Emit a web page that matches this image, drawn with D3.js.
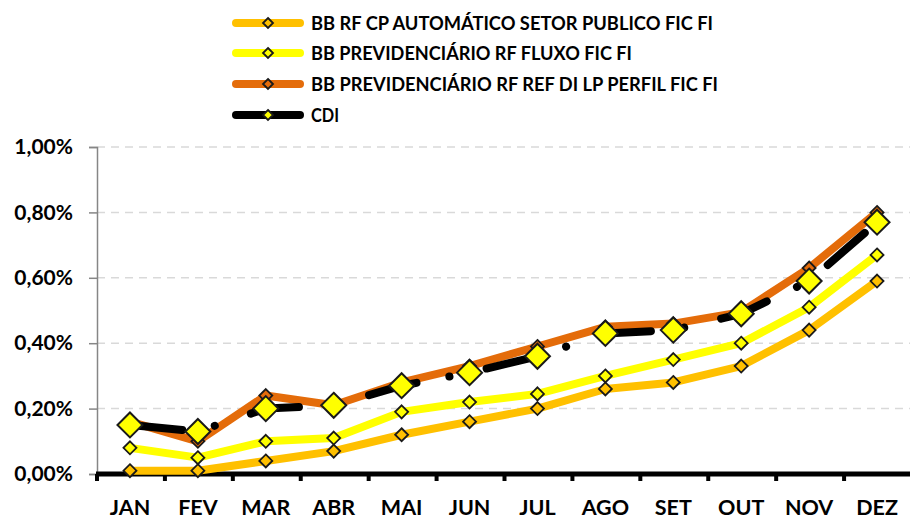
<!DOCTYPE html>
<html><head><meta charset="utf-8">
<script src="https://cdn.jsdelivr.net/npm/d3@7"></script>
<style>body{margin:0;background:#fff}svg{display:block}text{font-family:Lato,"Liberation Sans",Arial,sans-serif;font-weight:bold;fill:#000}</style>
</head><body><svg id="c" width="910" height="519"></svg>
<script>
const months = ["JAN","FEV","MAR","ABR","MAI","JUN","JUL","AGO","SET","OUT","NOV","DEZ"];
const seriesNames = ["BB RF CP AUTOMÁTICO SETOR PUBLICO FIC FI","BB PREVIDENCIÁRIO RF FLUXO FIC FI","BB PREVIDENCIÁRIO RF REF DI LP PERFIL FIC FI","CDI"];
const rfcp   = [0.01,0.01,0.04,0.07,0.12,0.16,0.20,0.26,0.28,0.33,0.44,0.59];
const fluxo  = [0.08,0.05,0.10,0.11,0.19,0.22,0.245,0.30,0.35,0.40,0.51,0.67];
const perfil = [0.16,0.10,0.24,0.21,0.28,0.33,0.39,0.45,0.46,0.495,0.63,0.80];
const cdi    = [0.15,0.13,0.20,0.21,0.27,0.31,0.36,0.43,0.44,0.49,0.59,0.77];
const yTicks = [0,0.2,0.4,0.6,0.8,1.0];

const colors = ["#FFC000","#FFFF00","#E46C0A","#000000"];
const markerFill = ["#FFC000","#FFFF00","#E46C0A","#FFFF00"];
const data = [rfcp, fluxo, perfil, cdi];

const svg = d3.select("#c");
const x = d3.scaleBand().domain(months).range([96, 911]).padding(0);
const y = d3.scaleLinear().domain([0, 1]).range([474, 147]);
const cx = m => x(m) + x.bandwidth()/2;

// gridlines
svg.append("g").selectAll("line").data(yTicks.slice(1)).join("line")
  .attr("x1", 97).attr("x2", 910).attr("y1", d=>y(d)).attr("y2", d=>y(d))
  .attr("stroke", "#D9D9D9").attr("stroke-width", 1.5).attr("stroke-dasharray", "8,6");

// y axis
const yAxis = d3.axisLeft(y).tickValues(yTicks).tickSize(8)
  .tickFormat(d => d3.format(".2f")(d).replace(".", ",") + "%");
const ga = svg.append("g").attr("transform", "translate(97,0)").call(yAxis);
ga.select(".domain").attr("stroke", "#868686").attr("stroke-width", 1.5);
ga.selectAll(".tick line").attr("stroke", "#868686").attr("stroke-width", 1.5);
ga.selectAll(".tick text").attr("x", -24).attr("font-size", 21).attr("font-family", "Lato, Liberation Sans, Arial, sans-serif").attr("font-weight", "bold").attr("fill", "#000");

// x axis
const xa = svg.append("g").attr("transform", "translate(0,474)");
xa.append("line").attr("x1", 96).attr("x2", 910).attr("y1", 0).attr("y2", 0).attr("stroke", "#000").attr("stroke-width", 5);
xa.selectAll("line.tk").data(d3.range(13)).join("line").attr("class","tk")
  .attr("x1", i => 97 + i*x.bandwidth()).attr("x2", i => 97 + i*x.bandwidth())
  .attr("y1", 0).attr("y2", 7).attr("stroke", "#000").attr("stroke-width", 4);
xa.selectAll("text").data(months).join("text")
  .attr("x", d => cx(d)).attr("y", 41).attr("text-anchor", "middle").attr("font-size", 21.5).text(d => d);

const line = d3.line().x((d,i) => cx(months[i])).y(d => y(d));
const diamond = (s) => `M0,${-s}L${s},0L0,${s}L${-s},0Z`;

// lines
data.forEach((vals, k) => {
  const p = svg.append("path").datum(vals).attr("d", line)
    .attr("fill", "none").attr("stroke", colors[k]).attr("stroke-width", 8)
    .attr("stroke-linejoin", "round").attr("stroke-linecap", "round");
  if (k === 3) p.attr("stroke-dasharray", "49,33.5,0.1,38").attr("stroke-dashoffset", -3.5);
  const sz = k === 3 ? 12.5 : 6.5;
  svg.append("g").selectAll("path").data(vals).join("path")
    .attr("transform", (d,i) => `translate(${cx(months[i])},${y(d)})`)
    .attr("d", diamond(sz)).attr("fill", markerFill[k]).attr("stroke", "#1a1a1a").attr("stroke-width", k===3 ? 2 : 1.8);
});

// legend
const legRows = [23, 53, 84, 115];
const legWidths = [402, 321, 407, 28];
const lg = svg.append("g");
seriesNames.forEach((n, k) => {
  const yy = legRows[k];
  lg.append("line").attr("x1", 236).attr("x2", 300).attr("y1", yy).attr("y2", yy)
    .attr("stroke", colors[k]).attr("stroke-width", 8).attr("stroke-linecap", "round");
  lg.append("path").attr("transform", `translate(268,${yy})`).attr("d", diamond(5))
    .attr("fill", markerFill[k]).attr("stroke", "#1a1a1a").attr("stroke-width", 1.8);
  lg.append("text").attr("x", 311).attr("y", yy + 6.5).attr("font-size", 18)
    .attr("textLength", legWidths[k]).attr("lengthAdjust", "spacingAndGlyphs").text(n);
});
</script></body></html>
